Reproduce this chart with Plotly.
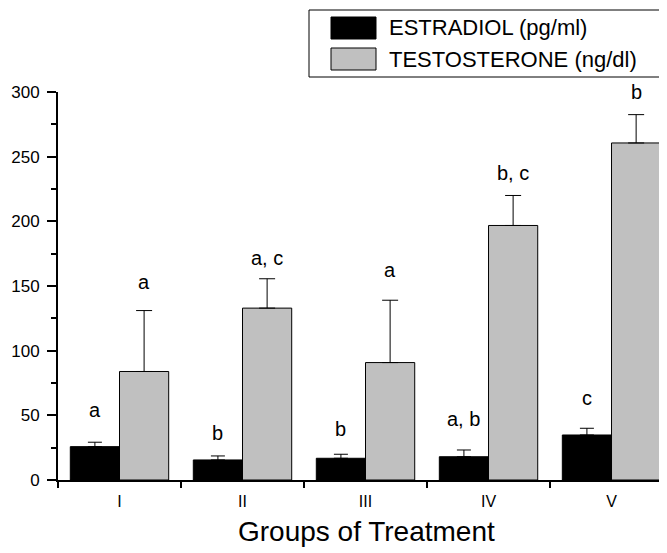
import plotly.graph_objects as go

groups = ["I", "II", "III", "IV", "V"]
estradiol = [25.8, 15.5, 16.8, 18.0, 34.8]
estradiol_err_top = [29.2, 18.6, 19.9, 23.2, 40.0]
testosterone = [83.9, 132.9, 90.8, 196.8, 260.6]
testosterone_err_top = [131.0, 155.6, 139.0, 220.0, 282.5]
estradiol_letters = ["a", "b", "b", "a, b", "c"]
estradiol_letter_y = [54, 36, 39.5, 47, 63.5]
testosterone_letters = ["a", "a, c", "a", "b, c", "b"]
testosterone_letter_y = [153, 172, 162, 237, 300]

FONT = "Arial, Liberation Sans, sans-serif"
OFF = 8  # page body margin
WIN_W, WIN_H = 667, 553
W, H = WIN_W - OFF, WIN_H - OFF
L, R, T, B = 58 - OFF, 0, 92 - OFF, 73
PW, PH = W - L - R, H - T - B

def px(x):
    # window pixel x -> paper
    return (x - OFF - L) / PW

def py(y):
    # window pixel y -> paper
    return (H - B - (y - OFF)) / PH

fig = go.Figure()
fig.add_trace(go.Bar(
    x=groups, y=estradiol, name="ESTRADIOL (pg/ml)",
    marker=dict(color="black", line=dict(color="black", width=1)),
    error_y=dict(type="data", symmetric=False,
                 array=[e - v for e, v in zip(estradiol_err_top, estradiol)],
                 arrayminus=[0] * len(groups),
                 color="black", thickness=1, width=7),
    showlegend=False,
))
fig.add_trace(go.Bar(
    x=groups, y=testosterone, name="TESTOSTERONE (ng/dl)",
    marker=dict(color="#c0c0c0", line=dict(color="black", width=1)),
    error_y=dict(type="data", symmetric=False,
                 array=[e - v for e, v in zip(testosterone_err_top, testosterone)],
                 arrayminus=[0] * len(groups),
                 color="black", thickness=1, width=8),
    showlegend=False,
))

annotations = []
for i in range(len(groups)):
    annotations.append(dict(x=i - 0.2, y=estradiol_letter_y[i], xref="x", yref="y",
                            text=estradiol_letters[i], showarrow=False,
                            font=dict(size=20, color="black", family=FONT)))
    annotations.append(dict(x=i + 0.2, y=testosterone_letter_y[i], xref="x", yref="y",
                            text=testosterone_letters[i], showarrow=False,
                            font=dict(size=20, color="black", family=FONT)))

# manual legend
shapes = [
    dict(type="rect", xref="paper", yref="paper", x0=px(309), x1=px(665), y0=py(77), y1=py(10),
         line=dict(color="black", width=1), fillcolor="white"),
    dict(type="rect", xref="paper", yref="paper", x0=px(331), x1=px(376), y0=py(39), y1=py(17),
         line=dict(color="black", width=1), fillcolor="black"),
    dict(type="rect", xref="paper", yref="paper", x0=px(331), x1=px(376), y0=py(70), y1=py(48),
         line=dict(color="black", width=1), fillcolor="#c0c0c0"),
]
annotations.append(dict(x=px(387), y=py(28), xref="paper", yref="paper", xanchor="left",
                        yanchor="middle", text="ESTRADIOL (pg/ml)", showarrow=False,
                        font=dict(size=22, color="black", family=FONT)))
annotations.append(dict(x=px(387), y=py(59), xref="paper", yref="paper", xanchor="left",
                        yanchor="middle", text="TESTOSTERONE (ng/dl)", showarrow=False,
                        font=dict(size=22, color="black", family=FONT)))
annotations.append(dict(x=px(366), y=py(531), xref="paper", yref="paper", xanchor="center",
                        yanchor="middle", text="Groups of Treatment", showarrow=False,
                        font=dict(size=28, color="black", family=FONT)))

fig.update_layout(
    width=W, height=H,
    margin=dict(l=L, r=R, t=T, b=B, pad=0),
    paper_bgcolor="white", plot_bgcolor="white",
    barmode="group", bargap=0.2, bargroupgap=0,
    font=dict(family=FONT, color="black"),
    annotations=annotations, shapes=shapes,
    xaxis=dict(type="category", range=[-0.5, 4.451], showgrid=False, zeroline=False,
               showline=True, linecolor="black", linewidth=2,
               ticks="outside", ticklen=6, tickwidth=1.5, tickcolor="black",
               tickson="boundaries", tickfont=dict(size=16, family=FONT),
               ticklabelstandoff=6),
    yaxis=dict(range=[0, 300], showgrid=False, zeroline=False,
               showline=True, linecolor="black", linewidth=2,
               ticks="outside", ticklen=9, tickwidth=1.5, tickcolor="black",
               dtick=50, tick0=0, tickfont=dict(size=17, family=FONT),
               ticklabelstandoff=4,
               minor=dict(dtick=25, ticks="outside", ticklen=5, tickwidth=1.5,
                          tickcolor="black", showgrid=False)),
)

fig.write_html("out.html")
